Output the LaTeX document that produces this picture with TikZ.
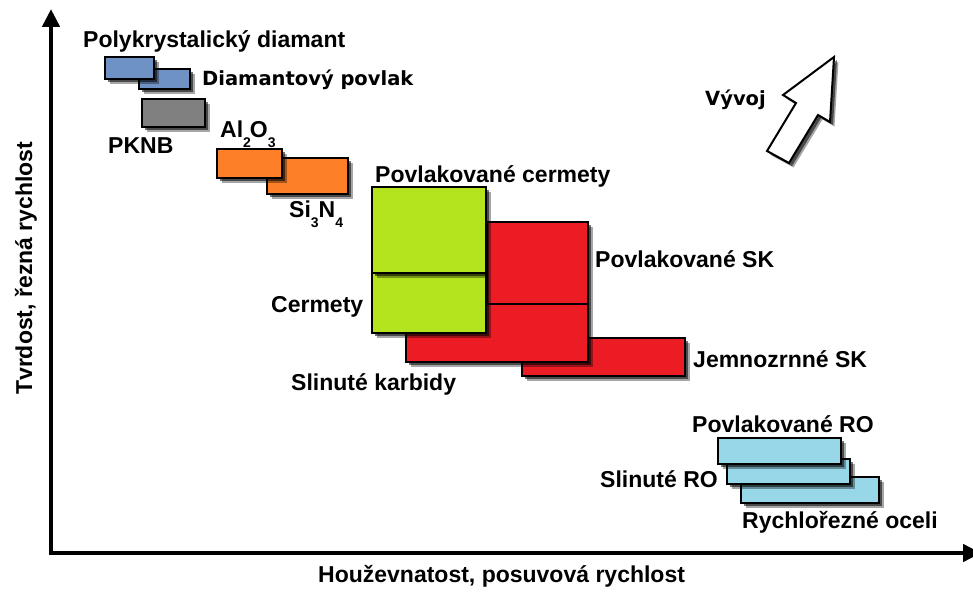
\documentclass[tikz,border=0pt]{standalone}
\usepackage{fontspec}
\setmainfont{Liberation Sans}
\newfontfamily\dvfont{DejaVu Sans}
\usetikzlibrary{arrows.meta,shadows}
\definecolor{cdia}{RGB}{111,146,196}
\definecolor{cgray}{RGB}{128,128,128}
\definecolor{corange}{RGB}{253,128,40}
\definecolor{cgreen}{RGB}{180,228,30}
\definecolor{cred}{RGB}{236,28,36}
\definecolor{clblue}{RGB}{152,215,232}
\newcommand{\mysub}[1]{\raisebox{-10pt}{\fontsize{14}{14}\selectfont #1}}
\begin{document}
\begin{tikzpicture}[x=1pt,y=-1pt,
  shad/.style={drop shadow={shadow xshift=4.5pt, shadow yshift=-4.5pt, opacity=0.35, fill=black},
    drop shadow={shadow xshift=3pt, shadow yshift=-3pt, opacity=0.55, fill=black}},
  box/.style={draw=black, line width=2.5pt, rectangle, inner sep=0pt, shad},
  lbl/.style={font=\fontsize{23}{27}\selectfont\bfseries, anchor=base west, inner sep=0pt},
  lbld/.style={font=\dvfont\fontsize{19.5}{23}\selectfont\bfseries, anchor=base west, inner sep=0pt},
  axis/.style={line width=4.5pt, line join=miter,
    {Triangle[width=17pt,length=18pt]}-{Triangle[width=17pt,length=18pt]}}]
\path[use as bounding box, fill=white] (0,0) rectangle (973,594);

% axes
\coordinate (Y) at (51,9);
\coordinate (O) at (51,553);
\coordinate (X) at (981,553);
\draw[axis] (Y) -- (O) -- (X);

% diamond group
\node[box, fill=cdia, minimum width=51pt, minimum height=20pt] (dpov) at (164.5,79) {};
\node[box, fill=cdia, minimum width=49pt, minimum height=22pt] (dia) at (129.5,68) {};
\node[box, fill=cgray, minimum width=63pt, minimum height=28pt] (pknb) at (173.5,113) {};

% ceramics
\node[box, fill=corange, minimum width=81pt, minimum height=36pt] (si) at (307.5,176) {};
\node[box, fill=corange, minimum width=65pt, minimum height=29pt] (al) at (249.5,163.5) {};

% carbides
\node[box, fill=cred, minimum width=163pt, minimum height=38pt] (jsk) at (603.5,357) {};
\node[box, fill=cred, minimum width=101pt, minimum height=82pt] (psk) at (537.5,263) {};
\node[box, fill=cred, minimum width=182pt, minimum height=58pt] (sk) at (497,333) {};
\node[box, fill=cgreen, minimum width=114pt, minimum height=60pt] (cerm) at (429,303) {};
\node[box, fill=cgreen, minimum width=114pt, minimum height=86pt] (pcerm) at (429,230) {};

% HSS
\node[box, fill=clblue, minimum width=138pt, minimum height=26pt] (rro) at (810,490) {};
\node[box, fill=clblue, minimum width=123pt, minimum height=25pt] (sro) at (788.5,471.5) {};
\node[box, fill=clblue, minimum width=123pt, minimum height=26pt] (pro) at (779.5,451) {};

% development arrow
\filldraw[fill=white, draw=black, line width=2pt, line join=miter, shad]
  (834,57) -- (830,122) -- (818,115) -- (789,163) -- (767,151) -- (796,103) -- (783,95) -- cycle;

% labels
\node[lbl] (tdia) at (83,48) {Polykrystalický diamant};
\node[lbld] (tdpov) at (202,85) {Diamantový povlak};
\node[lbl] (tpknb) at (108,153) {PKNB};
\node[lbl] (tal) at (220,137) {Al\mysub{2}\kern-1pt O\mysub{3}};
\node[lbl] (tsi) at (289,217) {Si\mysub{3}N\mysub{4}};
\node[lbl] (tpcerm) at (375,182) {Povlakované cermety};
\node[lbl] (tpsk) at (595,267) {Povlakované SK};
\node[lbl] (tcerm) at (271,312) {Cermety};
\node[lbl] (tjsk) at (693,367) {Jemnozrnné SK};
\node[lbl] (tsk) at (291,390) {Slinuté karbidy};
\node[lbl] (tpro) at (692,432) {Povlakované RO};
\node[lbl] (tsro) at (600,487) {Slinuté RO};
\node[lbl] (trro) at (742,528) {Rychlořezné oceli};
\node[lbld] (tvyv) at (705,105) {Vývoj};
\node[lbl] (tx) at (318,582) {Houževnatost, posuvová rychlost};
\node[lbl, rotate=90] (ty) at (32,395) {Tvrdost, řezná rychlost};
\end{tikzpicture}
\end{document}
